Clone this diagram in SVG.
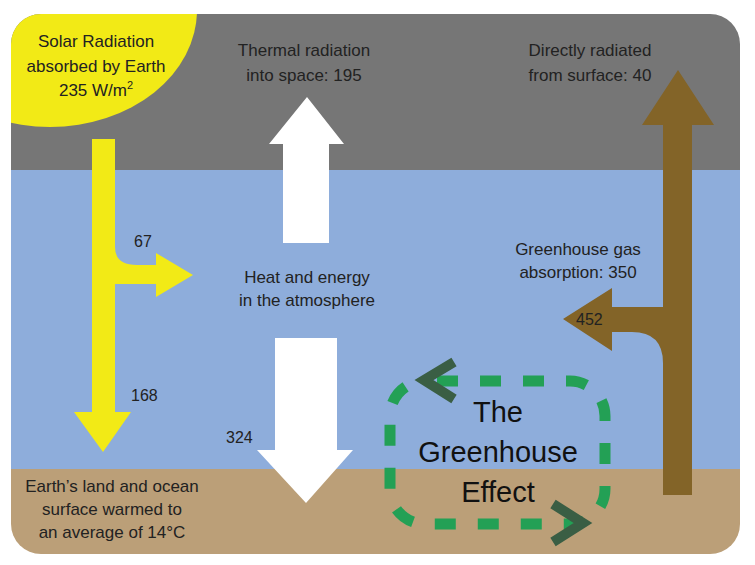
<svg xmlns="http://www.w3.org/2000/svg" width="755" height="565" viewBox="0 0 755 565">
<style>
  .t { font-family: "Liberation Sans", Arial, sans-serif; font-size: 17px; fill: #222; text-anchor: middle; }
  .n { font-family: "Liberation Sans", Arial, sans-serif; font-size: 16px; fill: #222; }
  .big { font-family: "Liberation Sans", Arial, sans-serif; font-size: 29px; fill: #111; text-anchor: middle; }
  .chev { fill: none; stroke: #3a5e44; stroke-width: 10; stroke-linejoin: miter; }
</style>
<defs>
  <clipPath id="panel">
    <rect x="11" y="14" width="729" height="540" rx="30" ry="30"/>
  </clipPath>
</defs>
<rect width="755" height="565" fill="#ffffff"/>
<g id="background" clip-path="url(#panel)">
  <rect x="0" y="0" width="755" height="170" fill="#767676"/>
  <rect x="0" y="170" width="755" height="299" fill="#8eaddb"/>
  <rect x="0" y="469" width="755" height="96" fill="#bb9f78"/>
  <ellipse cx="50" cy="10" rx="147" ry="117" fill="#f2ea16"/>
</g>
<g id="connectors">
  <path id="solar-arrow" d="M92,139 H115 V247 Q115,265 137,265 H156 V253 L193,275 L156,297 V284 H115 V412 H131 L103,452 L74,412 H92 Z" fill="#f2ea16"/>
  <path id="thermal-up" d="M283,243 V144 H269 L307,97 L344,144 H329 V243 Z" fill="#ffffff"/>
  <path id="back-down" d="M275,338 H337 V450 H353 L306,503 L257,450 H275 Z" fill="#ffffff"/>
  <path id="surface-arrow" d="M663,495 V363 Q663,332 632,332 H612 V351 L563,319 L612,288 V307 H663 V125 H642 L678,70 L714,125 H692 V495 Z" fill="#836428"/>
  <g id="greenhouse-loop">
    <rect x="390" y="381" width="215" height="143" rx="35" ry="35" fill="none" stroke="#23a055" stroke-width="11" stroke-dasharray="21 22" stroke-dashoffset="31"/>
    <polyline class="chev" points="454,362 424,380 454,399"/>
    <polyline class="chev" points="553,504 583,523 553,542"/>
  </g>
</g>
<g id="solar">
  <text class="t" x="96" y="47">Solar Radiation</text>
  <text class="t" x="96" y="72">absorbed by Earth</text>
  <text class="t" x="96" y="96">235 W/m<tspan font-size="11" dy="-7">2</tspan></text>
</g>
<g id="thermal">
  <text class="t" x="304" y="56">Thermal radiation</text>
  <text class="t" x="304" y="81">into space: 195</text>
</g>
<g id="direct">
  <text class="t" x="590" y="56">Directly radiated</text>
  <text class="t" x="590" y="81">from surface: 40</text>
</g>
<g id="atmosphere">
  <text class="t" x="307" y="283">Heat and energy</text>
  <text class="t" x="307" y="306">in the atmosphere</text>
</g>
<g id="ghg">
  <text class="t" x="578" y="255">Greenhouse gas</text>
  <text class="t" x="578" y="278">absorption: 350</text>
</g>
<g id="surface">
  <text class="t" x="112" y="492">Earth’s land and ocean</text>
  <text class="t" x="112" y="515">surface warmed to</text>
  <text class="t" x="112" y="538">an average of 14°C</text>
</g>
<g id="effect">
  <text class="big" x="498" y="422">The</text>
  <text class="big" x="498" y="462">Greenhouse</text>
  <text class="big" x="498" y="502">Effect</text>
</g>
<g id="numbers">
  <text class="n" x="134" y="247">67</text>
  <text class="n" x="131" y="401">168</text>
  <text class="n" x="226" y="443">324</text>
  <text class="n" x="576" y="325">452</text>
</g>
</svg>
